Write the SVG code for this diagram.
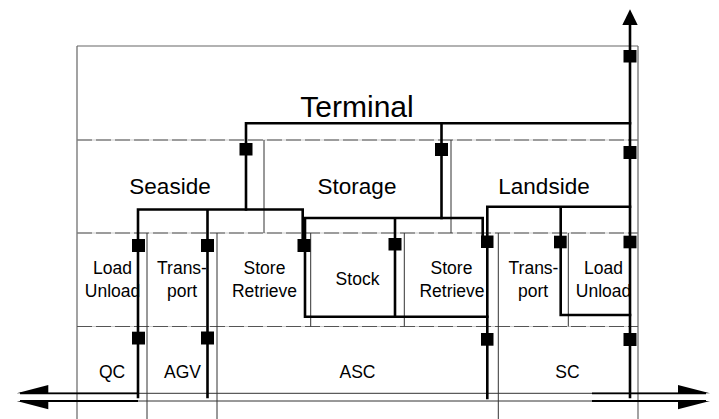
<svg xmlns="http://www.w3.org/2000/svg" width="719" height="419" viewBox="0 0 719 419">
<style>
.frame{stroke:#666;stroke-width:1.2;fill:none}
.grid{stroke:#333;stroke-width:1;fill:none}
.dash-bg{stroke:#ccc;stroke-width:1.2;fill:none}
.dash{stroke:#555;stroke-width:1.2;fill:none;stroke-dasharray:15 4}
.base{stroke:#333;stroke-width:1;fill:none}
.shaft{stroke:#000;stroke-width:1.8;fill:none}
.con{stroke:#000;stroke-width:2.6;fill:none;stroke-linecap:square}
.sq{fill:#000}
text{font-family:"Liberation Sans",Arial,sans-serif;fill:#000;text-anchor:middle}
.big{font-size:30px}
.mid{font-size:22.5px}
.sm{font-size:17.5px}
</style>
<rect width="719" height="419" fill="#fff"/>
<g id="grid">
<path class="frame" d="M77,46H638M77,46V419M638,46V419"/>
<path class="dash-bg" d="M77,140H638M77,233H638M77,326.5H638"/>
<path class="dash" d="M77,140H638M77,233H638M77,326.5H638"/>
<path class="grid" d="M264,140V233M451,140V233M147,233V419M217,233V419M498.3,233V419M310.7,233V326.5M404.3,233V326.5M568.3,233V326.5"/>
<path class="base" d="M48,393.3H680M48,401H680"/>
</g>
<g id="terminal"><text class="big" x="357" y="117">Terminal</text></g>
<g id="seaside"><text class="mid" x="170" y="194">Seaside</text></g>
<g id="storage"><text class="mid" x="357" y="194">Storage</text></g>
<g id="landside"><text class="mid" x="544" y="194">Landside</text></g>
<g id="loadunload-left"><text class="sm" x="112.5" y="274">Load</text><text class="sm" x="112.5" y="297">Unload</text></g>
<g id="transport-left"><text class="sm" x="182" y="274">Trans-</text><text class="sm" x="182" y="297">port</text></g>
<g id="storeretrieve-left"><text class="sm" x="264.5" y="274">Store</text><text class="sm" x="264.5" y="297">Retrieve</text></g>
<g id="stock"><text class="sm" x="357.5" y="285">Stock</text></g>
<g id="storeretrieve-right"><text class="sm" x="451.5" y="274">Store</text><text class="sm" x="452" y="297">Retrieve</text></g>
<g id="transport-right"><text class="sm" x="533.5" y="274">Trans-</text><text class="sm" x="533" y="297">port</text></g>
<g id="loadunload-right"><text class="sm" x="603.5" y="274">Load</text><text class="sm" x="603.5" y="297">Unload</text></g>
<g id="qc"><text class="sm" x="112" y="378">QC</text></g>
<g id="agv"><text class="sm" x="182.5" y="378">AGV</text></g>
<g id="asc"><text class="sm" x="357.5" y="378">ASC</text></g>
<g id="sc"><text class="sm" x="567.5" y="378">SC</text></g>
<g id="connectors">
<path class="shaft" d="M20,393.3H138M20,401H138M592,393.3H706M592,401H706"/>
<path class="sq" d="M16.7,393.3L48.3,385V393.3ZM16.7,401L48.3,409.3V401ZM710,393.3L678,385V393.3ZM710,401L678,409.3V401Z"/>
<path class="con" d="M630,22V397"/>
<path class="sq" d="M630,9.3L637.7,25H622.3Z"/>
<path class="con" d="M246,209.5V123.3H630"/>
<path class="con" d="M441.5,123.3V218"/>
<path class="con" d="M138,397V209.5H302.7V240M207.5,209.5V397"/>
<path class="con" d="M305,316.7V218H482.7V236M395,218V316.7M305,316.7H487.3"/>
<path class="con" d="M487.3,398V206.7H630M560.7,206.7V315H630"/>
<rect class="sq" x="623.5" y="50" width="13" height="12.5"/>
<rect class="sq" x="623.5" y="146" width="13" height="13"/>
<rect class="sq" x="239.5" y="143" width="13" height="12.5"/>
<rect class="sq" x="435" y="143" width="13" height="13"/>
<rect class="sq" x="132" y="239" width="13" height="13"/>
<rect class="sq" x="201" y="239" width="13" height="13"/>
<rect class="sq" x="297.5" y="239" width="13" height="13"/>
<rect class="sq" x="388.5" y="238" width="13" height="12.5"/>
<rect class="sq" x="481" y="235.5" width="12.5" height="12.5"/>
<rect class="sq" x="554" y="235.7" width="12.7" height="12.6"/>
<rect class="sq" x="623.5" y="235.7" width="13" height="12.6"/>
<rect class="sq" x="132" y="331.7" width="13" height="12.8"/>
<rect class="sq" x="201" y="331.5" width="13" height="13"/>
<rect class="sq" x="481" y="333" width="12.5" height="12.7"/>
<rect class="sq" x="623.5" y="333" width="13" height="13"/>
</g>
</svg>
